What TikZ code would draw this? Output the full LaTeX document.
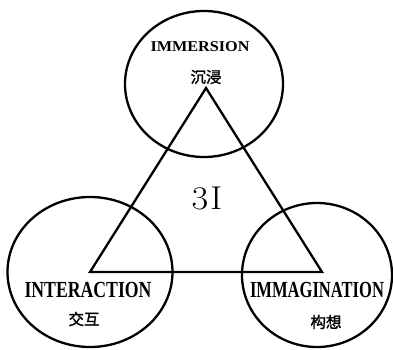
\documentclass[tikz,border=0pt]{standalone}
\usepackage{fontspec}
\setmainfont{Liberation Serif}
\newfontfamily\cjk[FakeBold=1.5]{Noto Sans CJK SC}
\newfontfamily\lmr{Latin Modern Roman}
\usetikzlibrary{shapes.geometric}
\tikzset{
  ring/.style={ellipse, draw, line width=2.3pt, inner sep=0pt},
  capslab/.style={inner sep=0pt, font=\bfseries},
  cjklab/.style={inner sep=0pt, font=\cjk\fontsize{15.5}{15.5}\selectfont},
}
\begin{document}
\begin{tikzpicture}[x=1pt,y=-1pt]
\useasboundingbox (0,0) rectangle (393,350);
\node[ring, minimum width=158pt, minimum height=146pt] (top) at (204,84) {};
\node[ring, minimum width=165pt, minimum height=150pt] (left) at (90,272) {};
\node[ring, minimum width=150pt, minimum height=144pt] (right) at (317,275) {};
\coordinate (A) at (206,88);
\coordinate (B) at (90,272);
\coordinate (C) at (322,272);
\draw[line width=2.3pt, line join=miter] (A) -- (B) -- (C) -- cycle;
\node[capslab] (imm) at (200,47) {\fontsize{15}{15}\selectfont\scalebox{1.08}[1]{IMMERSION}};
\node[cjklab] (chen) at (206,77) {沉浸};
\node[inner sep=0pt] (three) at (207,198) {\lmr\fontsize{33}{33}\selectfont\scalebox{1.1}[1]{3\hspace{2pt}I}};
\node[capslab] (inter) at (88,290) {\fontsize{23}{23}\selectfont\scalebox{0.77}[1]{INTERACTION}};
\node[cjklab] (jiao) at (84,319) {交互};
\node[capslab] (imag) at (317,290) {\fontsize{23}{23}\selectfont\scalebox{0.72}[1]{IMMAGINATION}};
\node[cjklab] (gou) at (326,322) {构想};
\end{tikzpicture}
\end{document}
